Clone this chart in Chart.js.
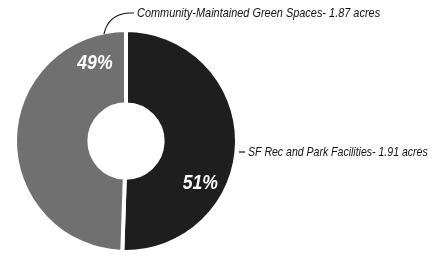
<!DOCTYPE html>
<html>
<head>
<meta charset="utf-8">
<script src="https://cdn.jsdelivr.net/npm/chart.js@4.4.0/dist/chart.umd.min.js"></script>
<style>
  html, body { margin: 0; padding: 0; background: #fff; }
  #wrap { width: 435px; height: 257px; }
</style>
</head>
<body>
<div id="wrap"><canvas id="acreChart"></canvas></div>
<script>
// data
const categories = ['SF Rec and Park Facilities', 'Community-Maintained Green Spaces'];
const acres = [1.91, 1.87];
const percentLabels = ['51%', '49%'];
const sliceColors = ['#1e1e1e', '#707070'];

// draw text squeezed horizontally (condensed look)
function condensedText(ctx, txt, x, y, sx, align) {
  ctx.save();
  ctx.translate(x, y);
  ctx.scale(sx, 1);
  ctx.textAlign = align;
  ctx.fillText(txt, 0, 0);
  ctx.restore();
}

// callout + percent text drawn on top of the doughnut
const calloutPlugin = {
  id: 'callouts',
  afterDatasetsDraw(chart) {
    const ctx = chart.ctx;
    const arcs = chart.getDatasetMeta(0).data;
    const cx = arcs[0].x, cy = arcs[0].y;
    const r = arcs[0].outerRadius;

    ctx.save();
    ctx.textBaseline = 'middle';
    // percentages, white bold italic
    ctx.fillStyle = '#fff';
    ctx.font = 'italic bold 21px "Liberation Sans", Arial, sans-serif';
    condensedText(ctx, percentLabels[0], cx + r * 0.67, cy + r * 0.38, 0.84, 'center');
    condensedText(ctx, percentLabels[1], cx - r * 0.28, cy - r * 0.70, 0.84, 'center');

    // outer labels
    ctx.fillStyle = '#111';
    ctx.strokeStyle = '#111';
    ctx.lineWidth = 1.2;
    ctx.font = 'italic 13.5px "Liberation Sans", Arial, sans-serif';

    // SF Rec label to the right
    const y1 = cy + 11;
    ctx.beginPath();
    ctx.moveTo(cx + r + 2, y1);
    ctx.lineTo(cx + r + 8, y1);
    ctx.stroke();
    condensedText(ctx, categories[0] + '- ' + acres[0].toFixed(2) + ' acres', cx + r + 11, y1, 0.78, 'left');

    // Community label above, with curved leader
    const y2 = cy - r - 17;
    ctx.beginPath();
    ctx.moveTo(cx + 8, y2);
    ctx.lineTo(cx + 2, y2);
    ctx.quadraticCurveTo(cx - 18, y2 + 2, cx - 22, y2 + 21);
    ctx.stroke();
    condensedText(ctx, categories[1] + '- ' + acres[1].toFixed(2) + ' acres', cx + 11, y2, 0.81, 'left');
    ctx.restore();
  }
};

new Chart(document.getElementById('acreChart'), {
  type: 'doughnut',
  data: {
    labels: categories,
    datasets: [{
      data: acres,
      backgroundColor: sliceColors,
      borderColor: '#fff',
      borderWidth: 4,
      hoverOffset: 0
    }]
  },
  options: {
    responsive: true,
    maintainAspectRatio: false,
    animation: false,
    cutout: '33%',
    layout: { padding: { left: 13, top: 28, right: 196, bottom: 3 } },
    plugins: {
      legend: { display: false },
      tooltip: { enabled: false }
    }
  },
  plugins: [calloutPlugin]
});
</script>
</body>
</html>
